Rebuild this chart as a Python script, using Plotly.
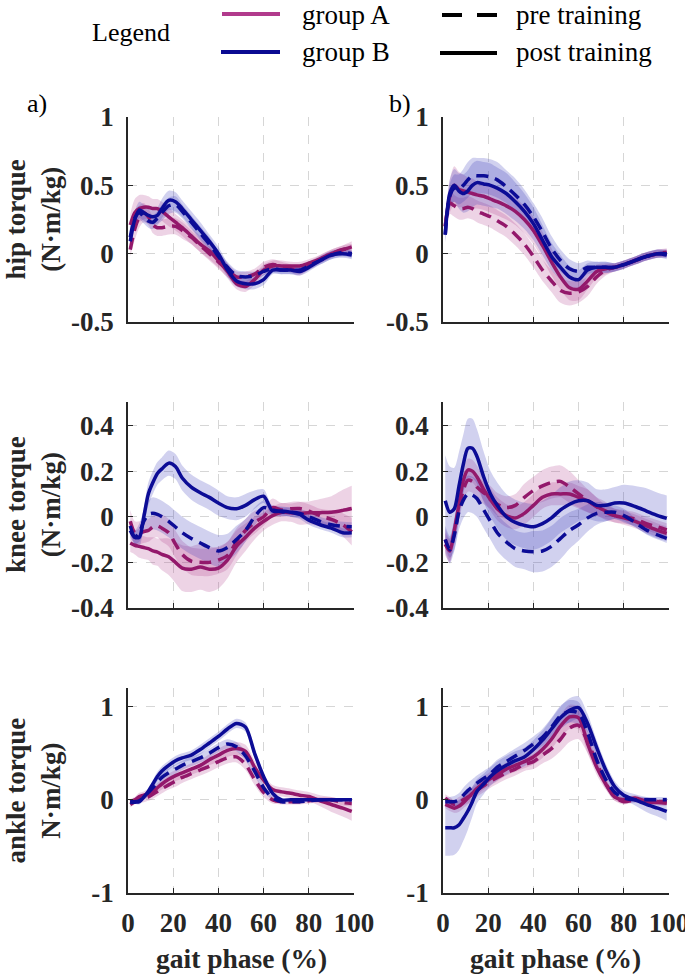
import plotly.graph_objects as go

# ---------------- data ----------------
GAIT = [1, 3, 5, 7, 9, 11, 13, 15, 18, 21, 24, 28, 32, 36, 40, 44, 48, 52, 56, 60, 64, 68, 72, 76, 80, 85, 90, 95, 99]
X_TICKS = [0, 20, 40, 60, 80, 100]

# panel a) hip
a_hip_A_pre = [0.03,0.18,0.27,0.30,0.27,0.21,0.19,0.19,0.20,0.20,0.17,0.12,0.06,0.00,-0.06,-0.12,-0.17,-0.17,-0.15,-0.10,-0.08,-0.09,-0.11,-0.13,-0.09,-0.04,0.00,0.03,0.04]
a_hip_A_pre_sd = [0.05,0.08,0.08,0.07,0.06,0.06,0.06,0.06,0.06,0.06,0.06,0.05,0.05,0.05,0.05,0.05,0.04,0.04,0.04,0.04,0.04,0.03,0.03,0.03,0.03,0.03,0.03,0.03,0.03]
a_hip_A_post = [0.21,0.30,0.33,0.34,0.34,0.33,0.33,0.31,0.27,0.23,0.19,0.13,0.07,0.02,-0.05,-0.13,-0.22,-0.24,-0.19,-0.12,-0.09,-0.09,-0.09,-0.09,-0.07,-0.04,0.00,0.03,0.05]
a_hip_A_post_sd = [0.08,0.10,0.10,0.09,0.08,0.07,0.07,0.07,0.07,0.06,0.06,0.06,0.06,0.06,0.05,0.05,0.04,0.04,0.04,0.04,0.04,0.04,0.03,0.03,0.03,0.03,0.03,0.03,0.04]
a_hip_B_pre = [0.12,0.26,0.30,0.27,0.24,0.23,0.26,0.30,0.35,0.36,0.31,0.23,0.15,0.07,-0.02,-0.10,-0.16,-0.17,-0.16,-0.13,-0.11,-0.12,-0.12,-0.12,-0.09,-0.05,-0.01,0.01,0.00]
a_hip_B_pre_sd = [0.04,0.05,0.05,0.05,0.05,0.05,0.05,0.06,0.06,0.06,0.05,0.05,0.05,0.05,0.04,0.04,0.04,0.04,0.03,0.03,0.03,0.03,0.03,0.03,0.03,0.03,0.03,0.03,0.03]
a_hip_B_post = [0.09,0.25,0.32,0.30,0.28,0.27,0.28,0.33,0.39,0.38,0.33,0.25,0.17,0.09,0.00,-0.12,-0.20,-0.22,-0.22,-0.19,-0.12,-0.12,-0.12,-0.13,-0.10,-0.05,-0.01,0.00,-0.01]
a_hip_B_post_sd = [0.05,0.06,0.06,0.06,0.06,0.06,0.06,0.07,0.07,0.07,0.06,0.06,0.06,0.05,0.05,0.05,0.04,0.04,0.04,0.04,0.03,0.03,0.03,0.03,0.03,0.03,0.03,0.03,0.03]

# panel b) hip
b_hip_A_pre = [0.20,0.37,0.35,0.33,0.33,0.34,0.33,0.31,0.29,0.27,0.24,0.20,0.14,0.07,-0.02,-0.12,-0.20,-0.27,-0.29,-0.28,-0.24,-0.17,-0.12,-0.10,-0.08,-0.05,-0.02,0.00,0.01]
b_hip_A_pre_sd = [0.05,0.08,0.08,0.08,0.08,0.08,0.08,0.08,0.08,0.08,0.08,0.08,0.08,0.08,0.08,0.08,0.08,0.09,0.09,0.08,0.07,0.05,0.04,0.03,0.03,0.03,0.03,0.03,0.03]
b_hip_A_post = [0.20,0.42,0.50,0.47,0.46,0.45,0.44,0.43,0.42,0.40,0.38,0.35,0.31,0.25,0.17,0.06,-0.06,-0.17,-0.25,-0.26,-0.20,-0.13,-0.11,-0.10,-0.08,-0.05,-0.02,0.00,0.00]
b_hip_A_post_sd = [0.06,0.12,0.14,0.13,0.12,0.11,0.11,0.10,0.10,0.10,0.10,0.10,0.10,0.10,0.10,0.10,0.10,0.09,0.09,0.08,0.06,0.05,0.04,0.03,0.03,0.03,0.03,0.03,0.03]
b_hip_B_pre = [0.14,0.42,0.48,0.47,0.50,0.54,0.57,0.57,0.57,0.56,0.54,0.49,0.43,0.36,0.27,0.16,0.04,-0.05,-0.11,-0.13,-0.10,-0.10,-0.10,-0.10,-0.08,-0.05,-0.02,0.00,0.00]
b_hip_B_pre_sd = [0.05,0.09,0.10,0.11,0.12,0.13,0.13,0.13,0.13,0.13,0.13,0.12,0.12,0.11,0.10,0.10,0.09,0.08,0.07,0.06,0.05,0.04,0.04,0.03,0.03,0.03,0.03,0.03,0.03]
b_hip_B_post = [0.14,0.44,0.50,0.46,0.44,0.46,0.50,0.52,0.51,0.50,0.48,0.44,0.38,0.31,0.22,0.10,-0.02,-0.10,-0.17,-0.19,-0.12,-0.10,-0.10,-0.10,-0.08,-0.05,-0.02,0.00,-0.01]
b_hip_B_post_sd = [0.06,0.10,0.12,0.13,0.14,0.15,0.16,0.16,0.16,0.16,0.15,0.15,0.14,0.13,0.12,0.11,0.10,0.09,0.08,0.07,0.05,0.04,0.04,0.03,0.03,0.03,0.03,0.03,0.03]

# panel a) knee
a_knee_A_pre = [-0.02,-0.07,-0.07,-0.065,-0.06,-0.045,-0.04,-0.05,-0.07,-0.12,-0.165,-0.195,-0.20,-0.20,-0.19,-0.17,-0.11,-0.06,-0.025,0.00,0.04,0.03,0.035,0.036,0.025,0.005,-0.012,-0.035,-0.066]
a_knee_A_pre_sd = [0.05,0.05,0.05,0.05,0.05,0.05,0.05,0.06,0.06,0.06,0.06,0.06,0.06,0.06,0.06,0.06,0.06,0.05,0.05,0.04,0.04,0.03,0.03,0.03,0.03,0.03,0.04,0.05,0.06]
a_knee_A_post = [-0.115,-0.125,-0.13,-0.135,-0.14,-0.15,-0.155,-0.165,-0.175,-0.20,-0.225,-0.23,-0.22,-0.23,-0.225,-0.19,-0.13,-0.09,-0.05,-0.02,0.005,0.02,0.018,0.015,0.017,0.018,0.02,0.028,0.036]
a_knee_A_post_sd = [0.04,0.04,0.05,0.05,0.05,0.06,0.06,0.07,0.08,0.09,0.10,0.10,0.10,0.10,0.09,0.08,0.07,0.06,0.05,0.04,0.04,0.04,0.04,0.05,0.05,0.06,0.07,0.09,0.10]
a_knee_B_pre = [-0.06,-0.09,-0.07,-0.02,0.01,0.015,0.01,0.00,-0.02,-0.045,-0.07,-0.095,-0.115,-0.135,-0.15,-0.135,-0.10,-0.06,0.00,0.04,0.03,0.022,0.02,0.015,0.00,-0.02,-0.035,-0.042,-0.044]
a_knee_B_pre_sd = [0.03,0.03,0.04,0.05,0.06,0.07,0.07,0.07,0.07,0.07,0.07,0.07,0.07,0.07,0.07,0.06,0.06,0.05,0.04,0.03,0.02,0.02,0.02,0.02,0.02,0.02,0.02,0.02,0.02]
a_knee_B_post = [-0.04,-0.09,-0.09,0.00,0.10,0.15,0.19,0.21,0.235,0.22,0.17,0.13,0.105,0.085,0.06,0.04,0.035,0.05,0.075,0.09,0.025,0.025,0.02,0.01,-0.015,-0.035,-0.05,-0.07,-0.07]
a_knee_B_post_sd = [0.03,0.03,0.04,0.04,0.05,0.05,0.05,0.05,0.055,0.055,0.055,0.055,0.055,0.055,0.055,0.05,0.05,0.05,0.04,0.03,0.02,0.02,0.02,0.02,0.02,0.02,0.02,0.02,0.02]

# panel b) knee
b_knee_A_pre = [-0.10,-0.145,-0.07,0.03,0.117,0.16,0.155,0.13,0.105,0.085,0.055,0.04,0.05,0.085,0.115,0.135,0.15,0.155,0.13,0.10,0.07,0.044,0.02,0.005,0.00,-0.01,-0.03,-0.045,-0.058]
b_knee_A_pre_sd = [0.05,0.05,0.05,0.05,0.05,0.05,0.05,0.05,0.05,0.05,0.05,0.05,0.05,0.06,0.06,0.07,0.07,0.07,0.07,0.06,0.05,0.04,0.03,0.03,0.03,0.03,0.03,0.03,0.03]
b_knee_A_post = [-0.12,-0.15,-0.06,0.05,0.16,0.205,0.20,0.175,0.12,0.075,0.035,0.005,-0.005,0.015,0.05,0.085,0.10,0.10,0.10,0.085,0.07,0.045,0.025,0.005,-0.005,-0.02,-0.04,-0.06,-0.073]
b_knee_A_post_sd = [0.05,0.05,0.05,0.05,0.05,0.05,0.05,0.05,0.05,0.05,0.05,0.05,0.05,0.05,0.05,0.05,0.05,0.05,0.05,0.05,0.05,0.04,0.04,0.03,0.03,0.03,0.03,0.03,0.03]
b_knee_B_pre = [-0.10,-0.145,-0.08,0.02,0.073,0.10,0.095,0.08,0.03,-0.02,-0.07,-0.11,-0.14,-0.15,-0.153,-0.15,-0.13,-0.095,-0.06,-0.035,-0.005,0.015,0.02,0.02,0.005,-0.025,-0.058,-0.08,-0.095]
b_knee_B_pre_sd = [0.06,0.06,0.07,0.08,0.08,0.08,0.08,0.08,0.08,0.08,0.08,0.08,0.08,0.08,0.09,0.09,0.09,0.09,0.08,0.07,0.06,0.05,0.04,0.03,0.03,0.02,0.02,0.02,0.02]
b_knee_B_post = [0.07,0.02,0.035,0.13,0.23,0.30,0.30,0.265,0.175,0.10,0.05,0.00,-0.025,-0.038,-0.044,-0.03,-0.005,0.03,0.055,0.07,0.07,0.05,0.05,0.06,0.06,0.045,0.025,0.005,-0.007]
b_knee_B_post_sd = [0.20,0.20,0.18,0.15,0.13,0.13,0.13,0.12,0.11,0.10,0.10,0.10,0.10,0.10,0.10,0.10,0.10,0.10,0.10,0.09,0.08,0.07,0.07,0.07,0.08,0.09,0.10,0.10,0.10]

# panel a) ankle
a_ank_A_pre = [-0.05,-0.02,0.00,0.015,0.03,0.06,0.09,0.12,0.16,0.20,0.24,0.28,0.32,0.36,0.41,0.45,0.46,0.38,0.22,0.08,0.00,-0.02,-0.02,-0.02,-0.01,0.00,0.00,-0.03,-0.04]
a_ank_A_pre_sd = [0.03,0.03,0.03,0.04,0.04,0.05,0.05,0.05,0.05,0.06,0.06,0.06,0.06,0.06,0.06,0.06,0.06,0.06,0.06,0.05,0.04,0.03,0.03,0.03,0.03,0.03,0.03,0.03,0.03]
a_ank_A_post = [-0.02,0.00,0.035,0.05,0.065,0.09,0.13,0.17,0.22,0.26,0.29,0.33,0.37,0.43,0.48,0.53,0.55,0.52,0.35,0.21,0.11,0.085,0.07,0.05,0.035,-0.01,-0.05,-0.09,-0.125]
a_ank_A_post_sd = [0.03,0.03,0.04,0.04,0.05,0.05,0.05,0.06,0.06,0.06,0.06,0.06,0.06,0.06,0.07,0.07,0.07,0.07,0.07,0.06,0.05,0.05,0.05,0.05,0.05,0.06,0.08,0.09,0.10]
a_ank_B_pre = [-0.02,-0.02,-0.01,0.03,0.08,0.13,0.19,0.24,0.29,0.33,0.37,0.41,0.45,0.50,0.56,0.60,0.57,0.47,0.31,0.13,0.02,-0.02,-0.02,-0.02,-0.01,0.00,0.00,0.00,0.00]
a_ank_B_pre_sd = [0.02,0.02,0.03,0.03,0.04,0.04,0.05,0.05,0.05,0.05,0.05,0.05,0.05,0.05,0.05,0.05,0.05,0.05,0.05,0.04,0.02,0.01,0.01,0.01,0.01,0.01,0.01,0.01,0.01]
a_ank_B_post = [-0.03,-0.025,-0.02,0.03,0.09,0.17,0.25,0.31,0.37,0.42,0.45,0.48,0.54,0.61,0.68,0.76,0.82,0.78,0.50,0.25,0.07,0.00,0.00,0.00,0.00,0.00,0.00,0.00,0.00]
a_ank_B_post_sd = [0.02,0.02,0.03,0.03,0.04,0.04,0.05,0.05,0.05,0.05,0.05,0.05,0.05,0.05,0.05,0.05,0.05,0.05,0.05,0.04,0.02,0.01,0.01,0.01,0.01,0.01,0.01,0.01,0.01]

# panel b) ankle
b_ank_A_pre = [0.02,-0.02,-0.05,-0.03,0.00,0.03,0.06,0.10,0.15,0.20,0.24,0.29,0.33,0.38,0.41,0.48,0.55,0.65,0.77,0.80,0.62,0.40,0.18,0.03,-0.02,0.00,-0.01,-0.02,-0.02]
b_ank_A_pre_sd = [0.04,0.05,0.05,0.06,0.06,0.07,0.07,0.07,0.07,0.07,0.07,0.07,0.07,0.07,0.08,0.09,0.11,0.13,0.15,0.15,0.12,0.09,0.06,0.04,0.03,0.03,0.03,0.03,0.03]
b_ank_A_post = [-0.05,-0.07,-0.09,-0.07,-0.03,0.02,0.07,0.12,0.18,0.23,0.27,0.33,0.37,0.41,0.46,0.54,0.65,0.79,0.89,0.88,0.60,0.35,0.17,0.03,0.00,0.02,-0.02,-0.03,-0.036]
b_ank_A_post_sd = [0.04,0.05,0.05,0.06,0.06,0.07,0.07,0.07,0.07,0.07,0.07,0.07,0.07,0.07,0.08,0.09,0.10,0.12,0.13,0.12,0.10,0.08,0.06,0.04,0.03,0.03,0.03,0.03,0.03]
b_ank_B_pre = [-0.02,-0.02,-0.02,0.00,0.05,0.10,0.14,0.18,0.23,0.28,0.35,0.41,0.47,0.53,0.60,0.67,0.78,0.90,0.95,0.93,0.72,0.43,0.22,0.08,0.02,0.00,0.00,0.00,0.00]
b_ank_B_pre_sd = [0.04,0.05,0.06,0.07,0.08,0.08,0.08,0.08,0.08,0.08,0.08,0.08,0.08,0.08,0.08,0.09,0.10,0.11,0.12,0.12,0.10,0.08,0.06,0.04,0.03,0.03,0.03,0.03,0.03]
b_ank_B_post = [-0.30,-0.30,-0.30,-0.27,-0.20,-0.12,-0.02,0.09,0.17,0.25,0.31,0.37,0.42,0.46,0.54,0.64,0.76,0.88,0.96,0.99,0.82,0.56,0.32,0.14,0.05,0.00,-0.05,-0.09,-0.125]
b_ank_B_post_sd = [0.30,0.30,0.29,0.27,0.24,0.20,0.16,0.13,0.11,0.10,0.10,0.10,0.10,0.10,0.10,0.10,0.11,0.12,0.13,0.12,0.10,0.08,0.07,0.06,0.05,0.06,0.08,0.09,0.10]

HIP_TICKS = [-0.5, 0, 0.5, 1]
HIP_LABELS = ["-0.5", "0", "0.5", "1"]
KNEE_TICKS = [-0.4, -0.2, 0, 0.2, 0.4]
KNEE_LABELS = ["-0.4", "-0.2", "0", "0.2", "0.4"]
ANK_TICKS = [-1, 0, 1]
ANK_LABELS = ["-1", "0", "1"]

ROW_TITLES = ["hip torque<br>(N·m/kg)", "knee torque<br>(N·m/kg)", "ankle torque<br>N·m/kg)"]
PANEL_TAGS = ["a)", "b)"]
X_TITLE = "gait phase (%)"
LEGEND_TITLE = "Legend"
GROUP_NAMES = ["group A", "group B"]
PHASE_NAMES = ["pre training", "post training"]

# ---------------- styling ----------------
W, H = 685, 976
FONT = "Liberation Serif"
COL_A = "#93186B"
COL_B = "#0C0C96"
LEG_A = "#B13A8C"
LEG_B = "#0A0A92"
BAND_A = "rgba(175,55,135,0.22)"
BAND_B = "rgba(45,45,180,0.22)"
AXC = "#262626"
GRIDC = "#d6d6d6"
DASH = "12px,7px"
LW = 3.5

COLS_PX = [(128, 354), (443, 669)]
ROWS_PX = [(117, 322), (402, 608), (688, 893)]
Y_RANGES = [[-0.5, 1.0], [-0.4, 0.503], [-1.0, 1.2]]
Y_TICKS = [(HIP_TICKS, HIP_LABELS), (KNEE_TICKS, KNEE_LABELS), (ANK_TICKS, ANK_LABELS)]

panels = [
    (a_hip_A_pre, a_hip_A_pre_sd, a_hip_A_post, a_hip_A_post_sd, a_hip_B_pre, a_hip_B_pre_sd, a_hip_B_post, a_hip_B_post_sd),
    (b_hip_A_pre, b_hip_A_pre_sd, b_hip_A_post, b_hip_A_post_sd, b_hip_B_pre, b_hip_B_pre_sd, b_hip_B_post, b_hip_B_post_sd),
    (a_knee_A_pre, a_knee_A_pre_sd, a_knee_A_post, a_knee_A_post_sd, a_knee_B_pre, a_knee_B_pre_sd, a_knee_B_post, a_knee_B_post_sd),
    (b_knee_A_pre, b_knee_A_pre_sd, b_knee_A_post, b_knee_A_post_sd, b_knee_B_pre, b_knee_B_pre_sd, b_knee_B_post, b_knee_B_post_sd),
    (a_ank_A_pre, a_ank_A_pre_sd, a_ank_A_post, a_ank_A_post_sd, a_ank_B_pre, a_ank_B_pre_sd, a_ank_B_post, a_ank_B_post_sd),
    (b_ank_A_pre, b_ank_A_pre_sd, b_ank_A_post, b_ank_A_post_sd, b_ank_B_pre, b_ank_B_pre_sd, b_ank_B_post, b_ank_B_post_sd),
]

fig = go.Figure()
layout = {}

for k, p in enumerate(panels):
    r, c = divmod(k, 2)
    idx = k + 1
    xa = "x" if idx == 1 else f"x{idx}"
    ya = "y" if idx == 1 else f"y{idx}"
    series = [
        (p[0], p[1], COL_A, BAND_A, DASH),
        (p[2], p[3], COL_A, BAND_A, "solid"),
        (p[4], p[5], COL_B, BAND_B, DASH),
        (p[6], p[7], COL_B, BAND_B, "solid"),
    ]
    # bands
    for m, s, lc, bc, dash in series:
        lo = [a - b for a, b in zip(m, s)]
        hi = [a + b for a, b in zip(m, s)]
        fig.add_trace(go.Scatter(x=GAIT, y=lo, mode="lines", line=dict(width=0, shape="spline", smoothing=0.8),
                                 xaxis=xa, yaxis=ya, showlegend=False, hoverinfo="skip"))
        fig.add_trace(go.Scatter(x=GAIT, y=hi, mode="lines", line=dict(width=0, shape="spline", smoothing=0.8),
                                 fill="tonexty", fillcolor=bc,
                                 xaxis=xa, yaxis=ya, showlegend=False, hoverinfo="skip"))
    # mean lines
    for m, s, lc, bc, dash in series:
        fig.add_trace(go.Scatter(x=GAIT, y=m, mode="lines",
                                 line=dict(color=lc, width=LW, dash=dash, shape="spline", smoothing=0.8),
                                 xaxis=xa, yaxis=ya, showlegend=False))

    x0, x1 = COLS_PX[c]
    y0, y1 = ROWS_PX[r]
    tickfont = dict(family=FONT, size=27, color=AXC, weight="bold")
    layout["xaxis" if idx == 1 else f"xaxis{idx}"] = dict(
        domain=[x0 / W, x1 / W], anchor=ya, range=[0, 100],
        tickvals=X_TICKS, ticktext=[str(v) for v in X_TICKS],
        showticklabels=(r == 2), tickfont=tickfont, ticklabelstandoff=5,
        ticklabeloverflow="allow",
        showline=True, linecolor=AXC, linewidth=1.5, mirror=False,
        ticks="inside", ticklen=5, tickcolor=AXC, tickwidth=1,
        showgrid=True, gridcolor=GRIDC, griddash="dash", gridwidth=1, zeroline=False,
    )
    tv, tt = Y_TICKS[r]
    layout["yaxis" if idx == 1 else f"yaxis{idx}"] = dict(
        domain=[1 - y1 / H, 1 - y0 / H], anchor=xa, range=Y_RANGES[r],
        tickvals=tv, ticktext=tt, tickfont=tickfont, ticklabelstandoff=7,
        ticklabeloverflow="allow",
        showline=True, linecolor=AXC, linewidth=1.5, mirror=False,
        ticks="inside", ticklen=5, tickcolor=AXC, tickwidth=1,
        showgrid=True, gridcolor=GRIDC, griddash="dash", gridwidth=1, zeroline=False,
    )

annotations = []
# row titles
for r, t in enumerate(ROW_TITLES):
    y0, y1 = ROWS_PX[r]
    annotations.append(dict(x=33 / W, y=1 - (y0 + y1) / 2 / H, xref="paper", yref="paper",
                            text=f"<b>{t}</b>", textangle=-90, showarrow=False,
                            xanchor="center", yanchor="middle",
                            font=dict(family=FONT, size=27, color=AXC)))
# panel tags
for px, t in zip([37, 400], PANEL_TAGS):
    annotations.append(dict(x=px / W, y=1 - 103 / H, xref="paper", yref="paper", text=t,
                            showarrow=False, xanchor="center", yanchor="middle",
                            font=dict(family=FONT, size=26, color="black")))
# x titles
for px in [241, 555]:
    annotations.append(dict(x=px / W, y=1 - 958 / H, xref="paper", yref="paper",
                            text=f"<b>{X_TITLE}</b>", showarrow=False,
                            xanchor="center", yanchor="middle",
                            font=dict(family=FONT, size=27.5, color=AXC)))
# legend text
annotations.append(dict(x=131 / W, y=1 - 32 / H, xref="paper", yref="paper", text=LEGEND_TITLE,
                        showarrow=False, xanchor="center", yanchor="middle",
                        font=dict(family=FONT, size=26, color="black")))
for (px, py), t in zip([(300, 15), (300, 52), (514, 15), (514, 52)],
                       GROUP_NAMES + PHASE_NAMES):
    annotations.append(dict(x=px / W, y=1 - py / H, xref="paper", yref="paper", text=t,
                            showarrow=False, xanchor="left", yanchor="middle",
                            font=dict(family=FONT, size=27, color="black")))

shapes = [
    dict(type="line", xref="paper", yref="paper", x0=222 / W, x1=280 / W, y0=1 - 14 / H, y1=1 - 14 / H,
         line=dict(color=LEG_A, width=4)),
    dict(type="line", xref="paper", yref="paper", x0=221 / W, x1=280 / W, y0=1 - 52 / H, y1=1 - 52 / H,
         line=dict(color=LEG_B, width=4)),
    dict(type="line", xref="paper", yref="paper", x0=442 / W, x1=497 / W, y0=1 - 15 / H, y1=1 - 15 / H,
         line=dict(color="black", width=4, dash="20px,15px")),
    dict(type="line", xref="paper", yref="paper", x0=440 / W, x1=497 / W, y0=1 - 53 / H, y1=1 - 53 / H,
         line=dict(color="black", width=4)),
]

fig.update_layout(
    width=W, height=H, margin=dict(l=0, r=0, t=0, b=0, autoexpand=False),
    paper_bgcolor="white", plot_bgcolor="white",
    showlegend=False, annotations=annotations, shapes=shapes,
    font=dict(family=FONT),
    **layout,
)

fig.write_html("out.html", config={"displayModeBar": False},
               post_script="document.body.style.margin='0px';document.body.style.overflow='hidden';")
